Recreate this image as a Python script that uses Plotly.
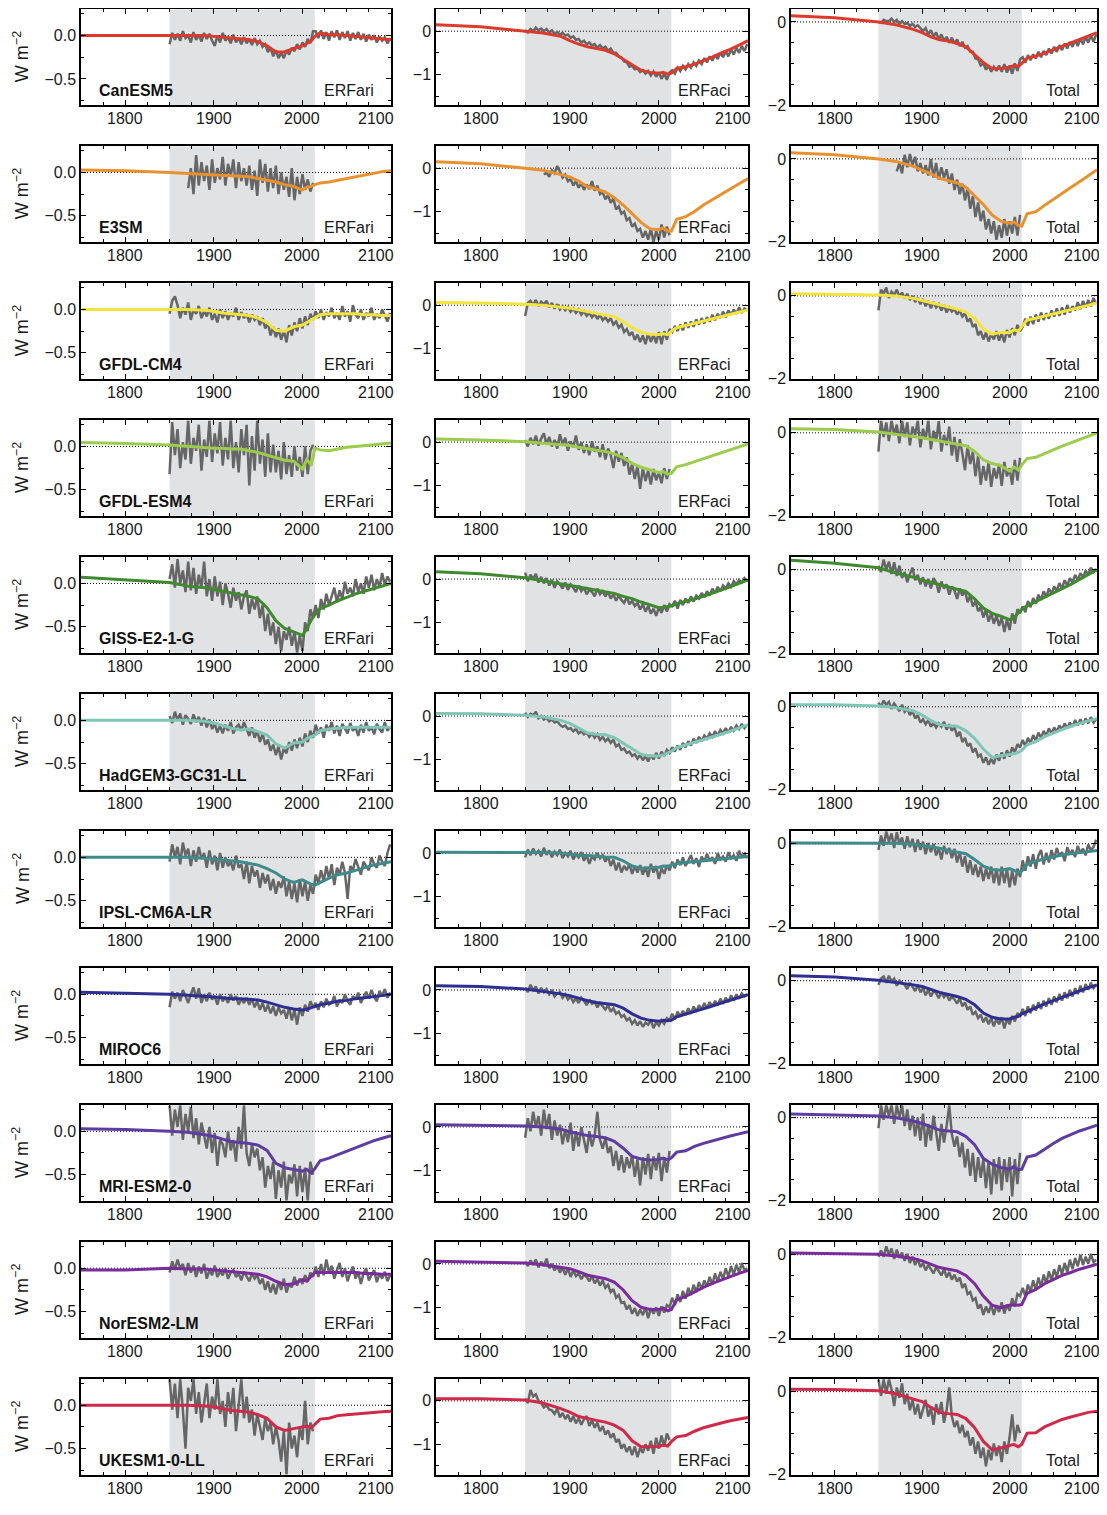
import plotly.graph_objects as go

# ---------------- years ----------------
YEARS_EMU = [1750, 1800, 1850, 1870, 1890, 1900, 1910, 1920, 1930, 1940, 1950, 1960, 1970, 1980,
             1990, 2000, 2005, 2010, 2014, 2020, 2030, 2040, 2050, 2060, 2070, 2080, 2090, 2100]
YEARS_HIST = list(range(1850, 2013, 3))   # 55 values
YEARS_FUT = list(range(2015, 2100, 3))    # 29 values

MODEL_NAMES = ["CanESM5", "E3SM", "GFDL-CM4", "GFDL-ESM4", "GISS-E2-1-G", "HadGEM3-GC31-LL",
               "IPSL-CM6A-LR", "MIROC6", "MRI-ESM2-0", "NorESM2-LM", "UKESM1-0-LL"]
MODEL_COLORS = ["#dc3b2c", "#e8912e", "#f2e43c", "#9bcc4c", "#3f8a2f", "#80c6b6",
                "#3f8b8c", "#2f2f92", "#5d3da1", "#7b2c9c", "#cf2a49"]
COLUMN_LABELS = ["ERFari", "ERFaci", "Total"]
Y_RANGES = [(-0.8, 0.3), (-1.7, 0.5), (-2.0, 0.3)]
X_TICK_LABELS = ["1800", "1900", "2000", "2100"]
X_TICK_VALUES = [1800, 1900, 2000, 2100]

# ---------------- CanESM5 ----------------
canesm5_ari_emu = [0.0, 0.0, 0.0, 0.0, 0.0, -0.01, -0.02, -0.03, -0.04, -0.05, -0.07, -0.12, -0.19, -0.19,
                   -0.15, -0.12, -0.09, -0.06, -0.01, 0.03, 0.01, 0.01, 0.0, -0.01, -0.02, -0.03, -0.04, -0.05]
canesm5_ari_hist = [-0.10, 0.03, -0.05, 0.02, -0.06, 0.05, -0.03, 0.00, -0.08, 0.04,
                    -0.05, 0.01, -0.07, 0.03, -0.04, 0.02, -0.06, -0.12, 0.00, -0.08,
                    0.03, -0.06, -0.02, -0.09, 0.01, -0.08, -0.03, -0.10, -0.02, -0.09,
                    -0.04, -0.11, -0.03, -0.10, -0.06, -0.13, -0.10, -0.19, -0.14, -0.24,
                    -0.17, -0.26, -0.20, -0.26, -0.17, -0.22, -0.14, -0.18, -0.10, -0.16,
                    -0.08, -0.13, -0.04, -0.09, 0.05]
canesm5_ari_fut = [0.05, -0.03, 0.06, -0.04, 0.04, -0.06, 0.05, -0.02, 0.06, -0.05,
                   0.04, -0.03, 0.05, -0.06, 0.03, -0.04, 0.04, -0.05, 0.02, -0.07,
                   0.01, -0.05, 0.00, -0.08, -0.01, -0.06, -0.02, -0.09, -0.03]
canesm5_aci_emu = [0.15, 0.10, 0.0, -0.04, -0.12, -0.22, -0.30, -0.36, -0.40, -0.44, -0.52, -0.65, -0.78, -0.90,
                   -0.95, -0.97, -0.95, -0.99, -0.97, -0.86, -0.82, -0.76, -0.68, -0.60, -0.50, -0.42, -0.32, -0.22]
canesm5_aci_hist = [0.02, -0.03, 0.05, 0.00, 0.08, 0.02, 0.06, 0.00, 0.05, -0.03,
                    0.02, -0.06, -0.02, -0.08, -0.04, -0.10, -0.08, -0.15, -0.12, -0.20,
                    -0.18, -0.26, -0.22, -0.30, -0.26, -0.33, -0.30, -0.38, -0.32, -0.40,
                    -0.36, -0.45, -0.40, -0.50, -0.50, -0.58, -0.60, -0.70, -0.72, -0.82,
                    -0.80, -0.88, -0.86, -0.94, -0.90, -0.98, -0.92, -1.02, -0.93, -1.05,
                    -0.95, -1.10, -0.98, -1.12, -0.95]
canesm5_aci_fut = [-0.90, -0.98, -0.84, -0.92, -0.80, -0.88, -0.76, -0.84, -0.72, -0.80,
                   -0.68, -0.76, -0.62, -0.72, -0.58, -0.68, -0.55, -0.64, -0.50, -0.60,
                   -0.46, -0.58, -0.42, -0.54, -0.38, -0.50, -0.34, -0.46, -0.30]
canesm5_tot_emu = [0.15, 0.10, 0.0, -0.07, -0.18, -0.26, -0.36, -0.43, -0.46, -0.52, -0.60, -0.78, -0.98, -1.13,
                   -1.12, -1.09, -1.05, -1.07, -1.00, -0.87, -0.82, -0.75, -0.67, -0.58, -0.50, -0.42, -0.34, -0.26]
canesm5_tot_hist = [0.00, -0.02, 0.05, 0.02, 0.02, 0.08, 0.00, 0.05, -0.05, 0.02,
                    -0.05, -0.02, -0.10, -0.05, -0.12, -0.08, -0.15, -0.22, -0.15, -0.30,
                    -0.20, -0.35, -0.25, -0.42, -0.30, -0.45, -0.36, -0.50, -0.38, -0.52,
                    -0.42, -0.58, -0.48, -0.62, -0.58, -0.72, -0.72, -0.88, -0.90, -1.05,
                    -1.00, -1.15, -1.06, -1.20, -1.08, -1.18, -1.05, -1.20, -1.02, -1.22,
                    -1.05, -1.25, -1.00, -1.18, -0.90]
canesm5_tot_fut = [-0.85, -0.98, -0.80, -0.92, -0.78, -0.88, -0.72, -0.85, -0.70, -0.80,
                   -0.64, -0.76, -0.60, -0.72, -0.56, -0.68, -0.52, -0.64, -0.48, -0.60,
                   -0.44, -0.58, -0.40, -0.54, -0.36, -0.50, -0.32, -0.48, -0.30]

# ---------------- E3SM ----------------
e3sm_ari_emu = [0.03, 0.02, 0.0, -0.01, -0.02, -0.03, -0.03, -0.04, -0.04, -0.05, -0.07, -0.09, -0.11, -0.14,
                -0.16, -0.20, -0.17, -0.16, -0.14, -0.12, -0.11, -0.09, -0.07, -0.05, -0.03, -0.01, 0.01, 0.02]
e3sm_ari_hist = [None, None, None, None, None, None, None,
                 -0.18, 0.05, -0.25, 0.20, -0.15, 0.12, -0.10, 0.08, -0.20, 0.15,
                 -0.12, 0.05, -0.08, 0.18, -0.15, 0.10, -0.05, 0.15, -0.18, 0.12,
                 -0.10, 0.05, -0.15, 0.08, -0.20, 0.02, -0.27, 0.15, -0.12, 0.10,
                 -0.22, 0.05, -0.18, 0.08, -0.25, 0.00, -0.20, -0.05, -0.28, 0.05,
                 -0.32, -0.05, -0.25, -0.02, -0.20, -0.08, -0.22, -0.12]
e3sm_aci_emu = [0.15, 0.10, 0.0, -0.05, -0.15, -0.20, -0.30, -0.43, -0.48, -0.55, -0.68, -0.85, -1.05, -1.25,
                -1.40, -1.42, -1.38, -1.45, -1.45, -1.18, -1.12, -1.00, -0.85, -0.72, -0.60, -0.48, -0.36, -0.24]
e3sm_aci_hist = [None, None, None, None, None, None, None,
                 -0.15, -0.10, -0.20, -0.05, -0.12, 0.05, -0.08, -0.22, -0.15, -0.30,
                 -0.25, -0.40, -0.30, -0.45, -0.35, -0.50, -0.38, -0.48, -0.30, -0.52,
                 -0.40, -0.60, -0.55, -0.72, -0.62, -0.80, -0.70, -0.95, -0.88, -1.05,
                 -1.00, -1.20, -1.15, -1.35, -1.28, -1.45, -1.40, -1.60, -1.45, -1.65,
                 -1.40, -1.70, -1.45, -1.65, -1.30, -1.60, -1.35, -1.55]
e3sm_tot_emu = [0.15, 0.10, 0.0, -0.06, -0.18, -0.27, -0.36, -0.47, -0.52, -0.58, -0.68, -0.90, -1.10, -1.35,
                -1.50, -1.55, -1.52, -1.60, -1.62, -1.32, -1.27, -1.12, -0.97, -0.83, -0.69, -0.55, -0.40, -0.26]
e3sm_tot_hist = [None, None, None, None, None, None, None,
                 -0.30, -0.10, -0.35, 0.10, -0.20, 0.12, -0.15, 0.05, -0.30, -0.10,
                 -0.35, -0.15, -0.40, 0.00, -0.45, -0.10, -0.50, -0.20, -0.45, -0.25,
                 -0.60, -0.35, -0.75, -0.50, -0.85, -0.60, -1.00, -0.70, -1.20, -0.90,
                 -1.40, -1.05, -1.50, -1.25, -1.70, -1.45, -1.80, -1.50, -1.95, -1.60,
                 -1.90, -1.45, -1.85, -1.50, -1.80, -1.40, -1.85, -1.35]

# ---------------- GFDL-CM4 ----------------
gfdlcm4_ari_emu = [0.0, 0.0, 0.0, 0.0, -0.01, -0.02, -0.04, -0.05, -0.06, -0.07, -0.10, -0.15, -0.24, -0.25,
                   -0.20, -0.18, -0.15, -0.12, -0.10, -0.06, -0.05, -0.05, -0.05, -0.05, -0.06, -0.06, -0.07, -0.07]
gfdlcm4_ari_hist = [-0.05, 0.10, 0.15, 0.05, -0.10, 0.02, -0.06, 0.08, -0.12, 0.00,
                    -0.05, 0.04, -0.10, -0.02, -0.08, 0.02, -0.12, -0.05, -0.15, 0.00,
                    -0.10, -0.02, -0.12, -0.04, -0.08, 0.02, -0.12, -0.03, -0.10, -0.05,
                    -0.15, -0.06, -0.12, -0.08, -0.18, -0.10, -0.22, -0.15, -0.30, -0.20,
                    -0.32, -0.22, -0.35, -0.24, -0.38, -0.18, -0.30, -0.15, -0.25, -0.10,
                    -0.22, -0.08, -0.18, -0.05, -0.12]
gfdlcm4_ari_fut = [-0.02, -0.10, 0.00, -0.12, -0.03, -0.08, 0.02, -0.10, -0.04, -0.12,
                   0.04, -0.08, -0.02, -0.14, 0.05, -0.06, -0.10, 0.00, -0.12, -0.04,
                   -0.08, 0.02, -0.12, -0.05, -0.10, 0.00, -0.08, -0.14, -0.04]
gfdlcm4_aci_emu = [0.06, 0.05, 0.02, 0.0, -0.05, -0.07, -0.11, -0.15, -0.19, -0.23, -0.27, -0.38, -0.52, -0.63,
                   -0.67, -0.68, -0.66, -0.68, -0.60, -0.52, -0.47, -0.42, -0.37, -0.32, -0.27, -0.22, -0.16, -0.11]
gfdlcm4_aci_hist = [-0.25, 0.05, 0.10, 0.00, 0.12, -0.02, 0.08, 0.02, 0.10, -0.05,
                    0.05, -0.08, 0.02, -0.10, -0.03, -0.12, -0.05, -0.15, -0.08, -0.18,
                    -0.10, -0.22, -0.14, -0.25, -0.18, -0.28, -0.20, -0.32, -0.22, -0.35,
                    -0.28, -0.38, -0.30, -0.45, -0.38, -0.52, -0.45, -0.62, -0.55, -0.70,
                    -0.62, -0.80, -0.68, -0.85, -0.70, -0.90, -0.65, -0.85, -0.68, -0.88,
                    -0.62, -0.90, -0.60, -0.80, -0.55]
gfdlcm4_aci_fut = [-0.62, -0.48, -0.60, -0.45, -0.58, -0.40, -0.52, -0.38, -0.50, -0.33,
                   -0.45, -0.30, -0.42, -0.28, -0.38, -0.22, -0.35, -0.20, -0.30, -0.15,
                   -0.28, -0.12, -0.22, -0.10, -0.20, -0.05, -0.18, -0.08, -0.12]
gfdlcm4_tot_emu = [0.05, 0.04, 0.02, 0.0, -0.06, -0.11, -0.16, -0.21, -0.27, -0.32, -0.39, -0.55, -0.80, -0.92,
                   -0.88, -0.89, -0.82, -0.85, -0.74, -0.58, -0.54, -0.49, -0.44, -0.39, -0.34, -0.29, -0.23, -0.17]
gfdlcm4_tot_hist = [-0.35, 0.15, 0.05, 0.20, -0.05, 0.10, 0.02, 0.15, -0.02, 0.08,
                    -0.05, 0.05, -0.10, 0.00, -0.15, -0.05, -0.20, -0.08, -0.25, -0.12,
                    -0.30, -0.15, -0.28, -0.20, -0.35, -0.22, -0.40, -0.28, -0.38, -0.32,
                    -0.45, -0.35, -0.50, -0.42, -0.62, -0.55, -0.75, -0.68, -0.95, -0.85,
                    -1.05, -0.88, -1.10, -0.92, -1.05, -0.85, -1.08, -0.90, -1.12, -0.82,
                    -1.00, -0.78, -0.95, -0.70, -0.85]
gfdlcm4_tot_fut = [-0.75, -0.55, -0.72, -0.50, -0.68, -0.45, -0.62, -0.40, -0.58, -0.42,
                   -0.55, -0.35, -0.50, -0.30, -0.48, -0.28, -0.45, -0.22, -0.40, -0.25,
                   -0.35, -0.15, -0.32, -0.12, -0.28, -0.10, -0.25, -0.05, -0.20]

# ---------------- GFDL-ESM4 ----------------
gfdlesm4_ari_emu = [0.045, 0.035, 0.015, 0.0, -0.01, -0.02, -0.02, -0.03, -0.03, -0.05, -0.07, -0.10, -0.13, -0.16,
                    -0.17, -0.26, -0.15, -0.22, -0.02, -0.04, -0.05, -0.03, -0.01, 0.0, 0.01, 0.02, 0.03, 0.04]
gfdlesm4_ari_hist = [-0.32, 0.28, -0.10, 0.20, -0.25, 0.05, -0.15, 0.30, -0.20, 0.10,
                     -0.05, 0.25, -0.28, 0.08, -0.12, 0.30, -0.18, 0.15, -0.08, 0.28,
                     -0.22, 0.10, -0.15, 0.30, -0.25, 0.05, -0.30, 0.20, -0.10, 0.25,
                     -0.45, 0.12, -0.28, 0.30, -0.20, 0.08, -0.35, 0.15, -0.30, 0.02,
                     -0.30, -0.05, -0.38, 0.05, -0.32, -0.10, -0.35, 0.00, -0.28, -0.12,
                     -0.35, 0.00, -0.32, -0.05, 0.02]
gfdlesm4_aci_emu = [0.07, 0.05, 0.01, -0.02, -0.06, -0.08, -0.12, -0.16, -0.19, -0.22, -0.27, -0.36, -0.49, -0.58,
                    -0.64, -0.70, -0.68, -0.74, -0.72, -0.57, -0.52, -0.45, -0.38, -0.31, -0.24, -0.17, -0.10, -0.04]
gfdlesm4_aci_hist = [0.05, -0.10, 0.10, -0.05, 0.15, -0.08, 0.08, 0.20, -0.05, 0.12,
                     -0.10, 0.05, -0.15, 0.18, -0.05, 0.10, -0.20, 0.02, -0.12, 0.15,
                     -0.18, 0.00, -0.25, -0.05, -0.30, 0.02, -0.22, -0.10, -0.35, -0.05,
                     -0.40, -0.15, -0.30, -0.60, -0.20, -0.45, -0.25, -0.55, -0.35, -0.75,
                     -0.50, -0.85, -0.55, -1.08, -0.60, -0.90, -0.65, -0.98, -0.62, -0.88,
                     -0.70, -0.95, -0.60, -0.85, -0.62]
gfdlesm4_tot_emu = [0.10, 0.08, 0.02, -0.03, -0.08, -0.12, -0.16, -0.20, -0.24, -0.27, -0.31, -0.45, -0.65, -0.74,
                    -0.79, -0.92, -0.82, -0.90, -0.77, -0.62, -0.59, -0.50, -0.40, -0.32, -0.24, -0.16, -0.08, 0.0]
gfdlesm4_tot_hist = [-0.45, 0.30, -0.10, 0.25, -0.20, 0.30, -0.05, 0.20, -0.25, 0.30,
                     -0.10, 0.25, -0.30, 0.15, -0.05, 0.30, -0.35, 0.10, -0.15, 0.30,
                     -0.40, 0.05, -0.20, 0.28, -0.45, -0.05, -0.30, 0.15, -0.55, -0.10,
                     -0.70, -0.15, -0.50, -0.90, -0.30, -0.75, -0.45, -1.05, -0.55, -1.25,
                     -0.80, -1.15, -0.70, -1.30, -0.85, -1.10, -0.75, -1.28, -0.70, -1.05,
                     -0.85, -1.25, -0.65, -1.15, -0.60]

# ---------------- GISS-E2-1-G ----------------
giss_ari_emu = [0.07, 0.04, 0.01, -0.03, -0.05, -0.07, -0.09, -0.11, -0.13, -0.15, -0.18, -0.28, -0.43, -0.52,
                -0.56, -0.60, -0.52, -0.42, -0.36, -0.29, -0.25, -0.20, -0.16, -0.12, -0.09, -0.06, -0.03, 0.0]
giss_ari_hist = [0.05, 0.22, -0.05, 0.28, 0.00, 0.15, -0.10, 0.25, -0.08, 0.18,
                 -0.12, 0.10, -0.05, 0.25, -0.15, 0.05, -0.20, 0.08, -0.15, 0.02,
                 -0.25, 0.00, -0.12, -0.28, -0.05, -0.20, -0.10, -0.30, -0.15, -0.08,
                 -0.35, -0.18, -0.30, -0.15, -0.40, -0.25, -0.55, -0.35, -0.60, -0.45,
                 -0.70, -0.50, -0.78, -0.55, -0.65, -0.50, -0.72, -0.55, -0.80, -0.60,
                 -0.78, -0.45, -0.55, -0.30, -0.40]
giss_ari_fut = [-0.25, -0.40, -0.18, -0.30, -0.12, -0.25, -0.15, -0.05, -0.22, -0.08,
                -0.18, 0.02, -0.12, -0.05, -0.15, 0.05, -0.10, 0.00, -0.12, 0.08,
                -0.05, 0.10, -0.08, 0.05, -0.04, 0.12, -0.02, 0.08, 0.02]
giss_aci_emu = [0.17, 0.12, 0.03, -0.04, -0.10, -0.14, -0.18, -0.22, -0.26, -0.29, -0.33, -0.40, -0.45, -0.53,
                -0.60, -0.66, -0.65, -0.63, -0.62, -0.57, -0.52, -0.46, -0.40, -0.33, -0.26, -0.18, -0.10, -0.02]
giss_aci_hist = [0.15, -0.05, 0.10, 0.00, 0.12, -0.08, 0.05, -0.10, 0.02, -0.15,
                 -0.02, -0.20, -0.05, -0.12, -0.22, -0.08, -0.25, -0.12, -0.20, -0.30,
                 -0.15, -0.28, -0.20, -0.35, -0.25, -0.30, -0.40, -0.22, -0.35, -0.28,
                 -0.40, -0.30, -0.45, -0.35, -0.50, -0.38, -0.48, -0.55, -0.42, -0.58,
                 -0.50, -0.62, -0.55, -0.70, -0.58, -0.75, -0.62, -0.80, -0.68, -0.85,
                 -0.65, -0.78, -0.60, -0.75, -0.58]
giss_aci_fut = [-0.62, -0.50, -0.68, -0.48, -0.60, -0.45, -0.55, -0.40, -0.52, -0.38,
                -0.45, -0.32, -0.42, -0.28, -0.38, -0.22, -0.32, -0.18, -0.28, -0.15,
                -0.22, -0.10, -0.18, -0.05, -0.12, -0.02, -0.08, 0.02, -0.05]
giss_tot_emu = [0.23, 0.16, 0.05, -0.08, -0.18, -0.25, -0.30, -0.36, -0.42, -0.47, -0.52, -0.70, -0.92, -1.05,
                -1.12, -1.20, -1.15, -1.05, -0.95, -0.87, -0.77, -0.66, -0.56, -0.45, -0.35, -0.23, -0.12, 0.0]
giss_tot_hist = [0.10, -0.05, 0.25, 0.00, 0.20, -0.10, 0.18, -0.15, 0.10, -0.20,
                 -0.05, -0.30, -0.10, 0.05, -0.25, -0.12, -0.35, -0.18, -0.40, -0.22,
                 -0.45, -0.20, -0.30, -0.55, -0.28, -0.45, -0.35, -0.60, -0.40, -0.50,
                 -0.70, -0.45, -0.62, -0.50, -0.78, -0.62, -0.88, -0.75, -1.00, -0.90,
                 -1.15, -0.95, -1.25, -1.05, -1.30, -1.10, -1.35, -1.15, -1.50, -1.20,
                 -1.45, -1.05, -1.30, -0.95, -1.05]
giss_tot_fut = [-0.88, -1.02, -0.75, -0.90, -0.68, -0.82, -0.60, -0.72, -0.52, -0.65,
                -0.45, -0.58, -0.40, -0.50, -0.32, -0.45, -0.25, -0.38, -0.20, -0.30,
                -0.12, -0.25, -0.08, -0.18, -0.02, -0.12, 0.05, -0.05, 0.02]

# ---------------- HadGEM3-GC31-LL ----------------
hadgem3_ari_emu = [0.0, 0.0, 0.0, 0.0, -0.01, -0.03, -0.06, -0.09, -0.11, -0.10, -0.13, -0.17, -0.27, -0.32,
                   -0.26, -0.25, -0.21, -0.19, -0.17, -0.12, -0.10, -0.09, -0.08, -0.08, -0.08, -0.08, -0.08, -0.08]
hadgem3_ari_hist = [0.05, -0.03, 0.10, 0.00, 0.08, -0.05, 0.06, 0.02, -0.04, 0.07,
                    -0.02, 0.04, -0.06, 0.03, -0.08, 0.01, -0.10, -0.04, -0.14, -0.06,
                    -0.15, -0.05, -0.12, -0.02, -0.15, -0.08, -0.05, -0.12, -0.02, -0.10,
                    -0.18, -0.08, -0.20, -0.12, -0.25, -0.15, -0.28, -0.22, -0.35, -0.28,
                    -0.40, -0.30, -0.45, -0.32, -0.38, -0.25, -0.35, -0.22, -0.32, -0.20,
                    -0.30, -0.15, -0.25, -0.12, -0.20]
hadgem3_ari_fut = [-0.05, -0.15, -0.08, -0.20, -0.05, -0.12, -0.02, -0.15, -0.06, -0.18,
                   -0.04, -0.10, -0.15, -0.03, -0.12, -0.08, -0.18, -0.05, -0.14, -0.02,
                   -0.12, -0.08, -0.16, -0.04, -0.10, -0.14, -0.02, -0.12, -0.08]
hadgem3_aci_emu = [0.06, 0.05, 0.02, -0.02, -0.10, -0.17, -0.28, -0.39, -0.42, -0.43, -0.50, -0.62, -0.76, -0.88,
                   -0.92, -0.92, -0.90, -0.86, -0.81, -0.73, -0.67, -0.60, -0.55, -0.48, -0.42, -0.35, -0.28, -0.20]
hadgem3_aci_hist = [0.08, -0.02, 0.05, 0.02, 0.10, -0.05, 0.00, -0.08, -0.04, -0.12,
                    -0.08, -0.15, -0.12, -0.20, -0.25, -0.22, -0.30, -0.28, -0.35, -0.30,
                    -0.40, -0.35, -0.42, -0.38, -0.48, -0.40, -0.50, -0.42, -0.55, -0.48,
                    -0.58, -0.52, -0.62, -0.55, -0.70, -0.65, -0.78, -0.75, -0.85, -0.82,
                    -0.92, -0.88, -0.98, -0.90, -1.02, -0.92, -1.05, -0.90, -1.00, -0.85,
                    -0.98, -0.82, -0.92, -0.78, -0.85]
hadgem3_aci_fut = [-0.72, -0.82, -0.68, -0.78, -0.62, -0.72, -0.58, -0.68, -0.52, -0.62,
                   -0.48, -0.58, -0.45, -0.52, -0.40, -0.48, -0.35, -0.45, -0.32, -0.40,
                   -0.28, -0.38, -0.25, -0.34, -0.22, -0.30, -0.18, -0.28, -0.20]
hadgem3_tot_emu = [0.05, 0.05, 0.02, -0.02, -0.10, -0.20, -0.33, -0.43, -0.46, -0.47, -0.58, -0.76, -1.02, -1.22,
                   -1.18, -1.15, -1.13, -1.10, -1.05, -0.92, -0.84, -0.72, -0.63, -0.55, -0.47, -0.40, -0.34, -0.29]
hadgem3_tot_hist = [0.10, 0.00, 0.15, 0.05, 0.12, -0.05, 0.08, -0.02, -0.10, 0.05,
                    -0.12, -0.05, -0.20, -0.10, -0.28, -0.20, -0.38, -0.30, -0.42, -0.32,
                    -0.48, -0.38, -0.50, -0.40, -0.48, -0.36, -0.55, -0.42, -0.58, -0.48,
                    -0.72, -0.60, -0.85, -0.75, -0.95, -0.88, -1.10, -1.00, -1.20, -1.15,
                    -1.35, -1.22, -1.40, -1.25, -1.38, -1.15, -1.30, -1.10, -1.25, -1.05,
                    -1.20, -0.98, -1.10, -0.90, -0.98]
hadgem3_tot_fut = [-0.80, -0.95, -0.75, -0.88, -0.68, -0.82, -0.62, -0.75, -0.58, -0.70,
                   -0.52, -0.65, -0.50, -0.60, -0.45, -0.55, -0.40, -0.52, -0.38, -0.48,
                   -0.32, -0.45, -0.30, -0.42, -0.28, -0.40, -0.25, -0.38, -0.30]

# ---------------- IPSL-CM6A-LR ----------------
ipsl_ari_emu = [0.0, 0.0, 0.0, 0.0, -0.01, -0.02, -0.03, -0.04, -0.05, -0.07, -0.09, -0.13, -0.18, -0.25,
                -0.29, -0.26, -0.29, -0.31, -0.32, -0.29, -0.24, -0.20, -0.18, -0.15, -0.12, -0.09, -0.07, -0.05]
ipsl_ari_hist = [-0.05, 0.15, 0.00, 0.12, -0.08, 0.17, 0.02, 0.10, -0.10, 0.08,
                 -0.05, 0.12, -0.02, 0.05, -0.12, 0.08, -0.08, 0.02, -0.15, 0.05,
                 -0.12, 0.00, -0.10, -0.05, -0.15, 0.02, -0.12, -0.08, -0.25, -0.05,
                 -0.30, -0.10, -0.22, -0.15, -0.35, -0.18, -0.30, -0.20, -0.38, -0.25,
                 -0.42, -0.28, -0.35, -0.22, -0.45, -0.28, -0.48, -0.30, -0.52, -0.25,
                 -0.45, -0.28, -0.50, -0.32, -0.42]
ipsl_ari_fut = [-0.20, -0.30, -0.15, -0.28, -0.10, -0.25, -0.08, -0.32, -0.12, -0.20,
                -0.05, -0.18, -0.48, -0.10, -0.15, -0.02, -0.12, -0.20, -0.05, -0.10,
                -0.15, 0.00, -0.08, -0.12, 0.02, -0.05, -0.10, 0.05, 0.15]
ipsl_aci_emu = [0.02, 0.02, 0.02, 0.01, 0.0, -0.03, -0.05, -0.06, -0.08, -0.09, -0.10, -0.18, -0.30, -0.35,
                -0.34, -0.33, -0.30, -0.31, -0.28, -0.25, -0.22, -0.20, -0.18, -0.16, -0.14, -0.12, -0.10, -0.08]
ipsl_aci_hist = [-0.10, 0.08, -0.05, 0.10, -0.02, 0.05, -0.08, 0.12, -0.04, 0.06,
                 -0.10, 0.03, -0.05, 0.08, -0.12, 0.00, -0.08, 0.05, -0.15, -0.02,
                 -0.10, 0.02, -0.18, -0.05, -0.25, -0.08, -0.15, 0.00, -0.12, -0.05,
                 -0.20, -0.08, -0.30, -0.15, -0.40, -0.22, -0.45, -0.30, -0.40, -0.25,
                 -0.48, -0.30, -0.45, -0.28, -0.50, -0.32, -0.55, -0.25, -0.45, -0.30,
                 -0.60, -0.35, -0.48, -0.28, -0.40]
ipsl_aci_fut = [-0.20, -0.35, -0.15, -0.28, -0.10, -0.30, -0.18, -0.05, -0.25, -0.12,
                -0.32, -0.08, -0.20, -0.02, -0.18, -0.10, -0.25, 0.00, -0.15, -0.08,
                -0.20, 0.02, -0.12, -0.05, -0.18, 0.05, -0.10, -0.02, -0.12]
ipsl_tot_emu = [0.02, 0.02, 0.02, 0.01, -0.01, -0.04, -0.08, -0.11, -0.16, -0.20, -0.24, -0.38, -0.54, -0.62,
                -0.64, -0.60, -0.64, -0.70, -0.66, -0.50, -0.42, -0.36, -0.31, -0.27, -0.24, -0.21, -0.18, -0.16]
ipsl_tot_hist = [-0.15, 0.20, -0.05, 0.30, 0.05, 0.25, -0.10, 0.28, 0.00, 0.15,
                 -0.12, 0.18, -0.08, 0.12, -0.20, 0.10, -0.15, 0.05, -0.25, 0.02,
                 -0.20, 0.00, -0.28, -0.10, -0.38, -0.05, -0.25, -0.10, -0.35, -0.12,
                 -0.45, -0.20, -0.55, -0.30, -0.70, -0.40, -0.75, -0.50, -0.80, -0.55,
                 -0.90, -0.60, -0.85, -0.55, -0.95, -0.60, -1.00, -0.55, -0.95, -0.60,
                 -1.05, -0.65, -1.00, -0.60, -0.80]
ipsl_tot_fut = [-0.40, -0.65, -0.30, -0.55, -0.25, -0.60, -0.28, -0.15, -0.50, -0.22,
                -0.45, -0.15, -0.38, -0.10, -0.30, -0.20, -0.42, -0.08, -0.25, -0.15,
                -0.32, -0.05, -0.22, -0.12, -0.28, -0.02, -0.15, -0.08, 0.10]

# ---------------- MIROC6 ----------------
miroc6_ari_emu = [0.025, 0.015, 0.0, -0.01, -0.02, -0.03, -0.04, -0.05, -0.05, -0.06, -0.065, -0.09, -0.12, -0.15,
                  -0.17, -0.18, -0.17, -0.15, -0.14, -0.12, -0.10, -0.08, -0.07, -0.05, -0.04, -0.03, -0.015, 0.0]
miroc6_ari_hist = [-0.15, 0.03, -0.05, 0.02, -0.08, 0.05, -0.02, -0.10, 0.00, 0.08,
                   -0.05, 0.07, -0.10, 0.00, -0.08, 0.02, -0.06, -0.02, -0.12, 0.00,
                   -0.08, -0.03, -0.10, 0.00, -0.07, -0.02, -0.12, -0.05, -0.10, -0.04,
                   -0.12, -0.05, -0.15, -0.08, -0.18, -0.10, -0.20, -0.12, -0.22, -0.14,
                   -0.25, -0.15, -0.22, -0.18, -0.28, -0.15, -0.30, -0.18, -0.35, -0.15,
                   -0.25, -0.12, -0.20, -0.08, -0.15]
miroc6_ari_fut = [-0.10, -0.18, -0.08, -0.15, -0.05, -0.12, -0.10, -0.02, -0.14, -0.06,
                  -0.10, 0.00, -0.08, -0.12, -0.02, -0.06, 0.02, -0.10, -0.04, 0.03,
                  -0.05, 0.05, -0.03, -0.08, 0.04, -0.02, 0.06, -0.04, 0.02]
miroc6_aci_emu = [0.10, 0.08, 0.02, -0.03, -0.09, -0.13, -0.19, -0.25, -0.29, -0.31, -0.34, -0.42, -0.55, -0.65,
                  -0.70, -0.72, -0.70, -0.71, -0.70, -0.62, -0.56, -0.49, -0.43, -0.37, -0.30, -0.24, -0.17, -0.11]
miroc6_aci_hist = [0.05, -0.05, 0.12, 0.00, 0.08, -0.08, 0.05, -0.05, 0.02, -0.10,
                   -0.02, -0.15, -0.08, -0.05, -0.18, -0.10, -0.22, -0.15, -0.28, -0.20,
                   -0.30, -0.18, -0.25, -0.35, -0.22, -0.32, -0.28, -0.40, -0.30, -0.38,
                   -0.45, -0.35, -0.50, -0.42, -0.55, -0.50, -0.62, -0.58, -0.70, -0.65,
                   -0.78, -0.70, -0.82, -0.72, -0.85, -0.75, -0.80, -0.70, -0.88, -0.75,
                   -0.82, -0.70, -0.78, -0.65, -0.70]
miroc6_aci_fut = [-0.55, -0.68, -0.50, -0.62, -0.48, -0.58, -0.42, -0.55, -0.38, -0.50,
                  -0.35, -0.45, -0.30, -0.42, -0.28, -0.38, -0.25, -0.35, -0.20, -0.32,
                  -0.18, -0.28, -0.12, -0.25, -0.10, -0.20, -0.08, -0.15, -0.10]
miroc6_tot_emu = [0.12, 0.09, 0.01, -0.04, -0.10, -0.14, -0.21, -0.28, -0.33, -0.38, -0.45, -0.58, -0.78, -0.88,
                  -0.92, -0.92, -0.88, -0.86, -0.80, -0.74, -0.66, -0.56, -0.48, -0.40, -0.32, -0.25, -0.17, -0.10]
miroc6_tot_hist = [-0.10, 0.05, 0.10, -0.05, 0.12, -0.02, 0.05, -0.12, 0.00, -0.05,
                   -0.10, -0.20, -0.05, -0.15, -0.25, -0.10, -0.28, -0.18, -0.35, -0.22,
                   -0.38, -0.25, -0.30, -0.42, -0.28, -0.40, -0.32, -0.48, -0.38, -0.45,
                   -0.55, -0.42, -0.62, -0.52, -0.70, -0.62, -0.82, -0.75, -0.90, -0.82,
                   -1.00, -0.88, -1.05, -0.90, -1.10, -0.92, -1.05, -0.88, -1.15, -0.92,
                   -1.05, -0.85, -0.98, -0.78, -0.85]
miroc6_tot_fut = [-0.68, -0.85, -0.62, -0.78, -0.58, -0.72, -0.52, -0.68, -0.48, -0.62,
                  -0.42, -0.58, -0.38, -0.52, -0.32, -0.48, -0.28, -0.42, -0.22, -0.38,
                  -0.18, -0.32, -0.12, -0.28, -0.08, -0.22, -0.05, -0.18, -0.10]

# ---------------- MRI-ESM2-0 ----------------
mri_ari_emu = [0.03, 0.02, 0.0, -0.01, -0.04, -0.06, -0.09, -0.12, -0.13, -0.14, -0.16, -0.22, -0.37, -0.42,
               -0.44, -0.46, -0.44, -0.48, -0.43, -0.34, -0.31, -0.27, -0.23, -0.19, -0.15, -0.11, -0.08, -0.05]
mri_ari_hist = [0.30, -0.05, 0.25, 0.05, 0.30, -0.10, 0.20, 0.00, 0.28, -0.08,
                0.15, -0.15, 0.10, -0.05, -0.20, 0.05, -0.25, -0.02, -0.40, -0.10,
                -0.15, -0.30, 0.00, -0.22, -0.10, -0.35, 0.05, -0.20, 0.30, -0.25,
                -0.40, -0.15, -0.30, -0.20, -0.45, -0.30, -0.65, -0.40, -0.55, -0.35,
                -0.78, -0.45, -0.65, -0.35, -0.80, -0.50, -0.60, -0.38, -0.75, -0.40,
                -0.70, -0.42, -0.80, -0.35, -0.50]
mri_aci_emu = [0.05, 0.04, 0.02, 0.0, -0.05, -0.11, -0.16, -0.20, -0.22, -0.25, -0.33, -0.49, -0.68, -0.74,
               -0.76, -0.75, -0.72, -0.76, -0.71, -0.58, -0.55, -0.45, -0.38, -0.32, -0.26, -0.21, -0.16, -0.11]
mri_aci_hist = [-0.25, 0.20, -0.10, 0.35, 0.00, 0.25, -0.20, 0.40, -0.05, 0.30,
                -0.30, 0.15, -0.20, 0.05, -0.40, -0.05, -0.35, 0.10, -0.55, -0.10,
                -0.45, 0.00, -0.30, -0.60, -0.10, -0.45, -0.20, 0.35, -0.30, -0.50,
                -0.25, -0.60, -0.45, -0.90, -0.55, -1.00, -0.65, -1.05, -0.70, -0.95,
                -0.65, -1.15, -0.75, -1.35, -0.70, -1.10, -0.62, -1.20, -0.68, -1.00,
                -0.60, -1.25, -0.70, -1.05, -0.55]
mri_tot_emu = [0.09, 0.07, 0.04, 0.0, -0.08, -0.14, -0.22, -0.30, -0.32, -0.34, -0.45, -0.65, -0.98, -1.12,
               -1.20, -1.24, -1.18, -1.26, -1.24, -0.95, -0.90, -0.75, -0.62, -0.50, -0.41, -0.32, -0.25, -0.18]
mri_tot_hist = [-0.25, 0.30, -0.05, 0.30, 0.05, 0.30, -0.15, 0.30, 0.00, 0.30,
                -0.20, 0.20, -0.30, 0.05, -0.45, 0.00, -0.55, 0.10, -0.70, -0.15,
                -0.55, 0.05, -0.35, -0.80, -0.15, -0.60, -0.20, 0.30, -0.40, -0.70,
                -0.45, -0.95, -0.60, -1.20, -0.75, -1.40, -0.85, -1.55, -0.95, -1.45,
                -1.00, -1.70, -1.05, -1.85, -1.00, -1.60, -0.95, -1.75, -1.00, -1.55,
                -0.95, -1.90, -1.00, -1.60, -0.85]

# ---------------- NorESM2-LM ----------------
noresm2_ari_emu = [-0.02, -0.02, 0.0, -0.01, -0.01, -0.02, -0.03, -0.04, -0.05, -0.06, -0.07, -0.10, -0.15, -0.19,
                   -0.18, -0.13, -0.15, -0.09, -0.05, -0.05, -0.05, -0.05, -0.05, -0.05, -0.06, -0.06, -0.07, -0.07]
noresm2_ari_hist = [-0.05, 0.08, -0.02, 0.10, 0.00, 0.05, -0.08, 0.06, -0.05, 0.03,
                    -0.10, 0.02, -0.06, 0.05, -0.12, -0.02, -0.08, 0.03, -0.10, -0.04,
                    -0.08, 0.00, -0.12, -0.05, -0.02, -0.10, -0.06, -0.14, -0.04, -0.10,
                    -0.15, -0.06, -0.12, -0.08, -0.18, -0.12, -0.25, -0.15, -0.28, -0.18,
                    -0.30, -0.15, -0.25, -0.12, -0.28, -0.18, -0.22, -0.10, -0.20, -0.12,
                    -0.18, -0.08, -0.15, -0.05, -0.10]
noresm2_ari_fut = [0.02, -0.10, 0.05, -0.08, 0.10, -0.05, 0.03, -0.12, -0.02, 0.06,
                   -0.10, 0.00, -0.15, -0.05, 0.02, -0.12, -0.04, -0.18, -0.06, 0.00,
                   -0.14, -0.08, -0.02, -0.16, -0.06, -0.12, -0.04, -0.15, -0.08]
noresm2_aci_emu = [0.06, 0.04, 0.02, -0.02, -0.08, -0.11, -0.18, -0.26, -0.30, -0.34, -0.42, -0.60, -0.85, -1.00,
                   -1.05, -1.05, -1.02, -1.08, -1.05, -0.83, -0.75, -0.64, -0.54, -0.45, -0.37, -0.29, -0.22, -0.15]
noresm2_aci_hist = [0.05, -0.05, 0.08, -0.02, 0.10, -0.08, 0.05, -0.05, 0.12, -0.10,
                    0.00, -0.15, -0.05, -0.20, -0.08, -0.25, -0.10, -0.30, -0.15, -0.28,
                    -0.22, -0.35, -0.25, -0.30, -0.40, -0.28, -0.45, -0.35, -0.50, -0.38,
                    -0.55, -0.48, -0.65, -0.58, -0.78, -0.72, -0.90, -0.88, -1.05, -0.95,
                    -1.15, -1.02, -1.20, -1.05, -1.18, -1.00, -1.25, -1.02, -1.15, -1.00,
                    -1.20, -0.98, -1.12, -0.95, -1.00]
noresm2_aci_fut = [-0.78, -0.95, -0.70, -0.88, -0.62, -0.80, -0.55, -0.72, -0.48, -0.65,
                   -0.42, -0.58, -0.38, -0.52, -0.30, -0.48, -0.22, -0.42, -0.18, -0.35,
                   -0.10, -0.30, -0.05, -0.25, -0.02, -0.20, 0.02, -0.15, -0.10]
noresm2_tot_emu = [0.04, 0.03, 0.01, -0.03, -0.09, -0.15, -0.23, -0.31, -0.35, -0.39, -0.50, -0.70, -1.00, -1.22,
                   -1.28, -1.22, -1.21, -1.22, -1.20, -0.93, -0.84, -0.70, -0.60, -0.50, -0.43, -0.35, -0.29, -0.23]
noresm2_tot_hist = [-0.05, 0.10, -0.05, 0.20, 0.00, 0.15, -0.10, 0.12, -0.08, 0.05,
                    -0.15, 0.02, -0.20, -0.05, -0.25, -0.10, -0.30, -0.20, -0.38, -0.25,
                    -0.35, -0.45, -0.30, -0.40, -0.50, -0.35, -0.55, -0.42, -0.60, -0.48,
                    -0.65, -0.55, -0.80, -0.70, -0.95, -0.90, -1.10, -1.05, -1.30, -1.20,
                    -1.45, -1.25, -1.40, -1.20, -1.45, -1.22, -1.38, -1.15, -1.42, -1.20,
                    -1.35, -1.05, -1.25, -0.95, -1.00]
noresm2_tot_fut = [-0.80, -1.00, -0.72, -0.90, -0.62, -0.85, -0.55, -0.78, -0.48, -0.70,
                   -0.40, -0.62, -0.35, -0.55, -0.25, -0.48, -0.20, -0.42, -0.12, -0.35,
                   -0.08, -0.28, 0.00, -0.25, -0.05, -0.22, 0.02, -0.18, -0.12]

# ---------------- UKESM1-0-LL ----------------
ukesm1_ari_emu = [0.0, 0.0, 0.0, 0.0, -0.01, -0.02, -0.04, -0.06, -0.07, -0.08, -0.11, -0.15, -0.25, -0.29,
                  -0.27, -0.25, -0.24, -0.26, -0.22, -0.16, -0.15, -0.12, -0.11, -0.10, -0.09, -0.08, -0.075, -0.07]
ukesm1_ari_hist = [0.30, -0.05, 0.25, -0.15, 0.30, -0.05, -0.50, 0.20, 0.05, 0.30,
                   -0.10, 0.15, -0.20, 0.05, 0.25, -0.15, 0.10, -0.05, 0.30, -0.10,
                   0.05, -0.25, 0.15, -0.10, 0.20, -0.30, 0.05, 0.30, -0.15, 0.10,
                   -0.20, -0.05, -0.35, -0.10, -0.25, -0.40, -0.15, -0.30, -0.20, -0.45,
                   -0.25, -0.40, -0.65, -0.30, -0.80, -0.20, -0.50, -0.35, -0.60, -0.25,
                   -0.40, 0.05, -0.45, -0.20, -0.30]
ukesm1_aci_emu = [0.05, 0.05, 0.02, -0.05, -0.18, -0.26, -0.36, -0.41, -0.45, -0.49, -0.56, -0.68, -0.92, -1.06,
                  -1.05, -1.05, -1.02, -1.04, -0.94, -0.83, -0.80, -0.70, -0.62, -0.56, -0.51, -0.46, -0.42, -0.38]
ukesm1_aci_hist = [0.05, -0.05, 0.25, 0.10, 0.15, 0.00, -0.05, -0.15, -0.10, -0.20,
                   -0.22, -0.30, -0.18, -0.38, -0.28, -0.42, -0.32, -0.48, -0.35, -0.52,
                   -0.40, -0.55, -0.42, -0.35, -0.58, -0.45, -0.62, -0.50, -0.70, -0.58,
                   -0.78, -0.68, -0.85, -0.75, -0.95, -0.88, -1.10, -1.00, -1.18, -1.05,
                   -1.25, -1.05, -1.30, -1.08, -1.20, -1.00, -1.15, -0.92, -1.22, -0.85,
                   -1.10, -0.80, -1.05, -0.75, -0.90]
ukesm1_tot_emu = [0.06, 0.05, 0.02, -0.05, -0.18, -0.24, -0.38, -0.50, -0.53, -0.55, -0.65, -0.87, -1.20, -1.40,
                  -1.36, -1.31, -1.27, -1.33, -1.27, -1.00, -0.99, -0.85, -0.75, -0.67, -0.61, -0.55, -0.50, -0.47]
ukesm1_tot_hist = [0.30, -0.10, 0.30, -0.05, 0.30, 0.05, -0.35, 0.10, -0.15, 0.20,
                   -0.30, -0.05, -0.45, -0.20, -0.55, -0.30, -0.65, -0.40, -0.20, -0.60,
                   -0.40, -0.80, -0.30, -0.55, -0.25, -0.75, -0.45, 0.10, -0.60, -0.85,
                   -0.70, -1.00, -0.80, -1.10, -0.95, -1.30, -1.10, -1.50, -1.20, -1.60,
                   -1.35, -1.80, -1.40, -1.65, -1.25, -1.55, -1.30, -1.70, -1.20, -1.50,
                   -1.10, -0.55, -1.20, -0.80, -1.00]

# (emulator, model-historical, model-future) per model, per column
PANEL_DATA = [
    [(canesm5_ari_emu, canesm5_ari_hist, canesm5_ari_fut), (canesm5_aci_emu, canesm5_aci_hist, canesm5_aci_fut),
     (canesm5_tot_emu, canesm5_tot_hist, canesm5_tot_fut)],
    [(e3sm_ari_emu, e3sm_ari_hist, None), (e3sm_aci_emu, e3sm_aci_hist, None), (e3sm_tot_emu, e3sm_tot_hist, None)],
    [(gfdlcm4_ari_emu, gfdlcm4_ari_hist, gfdlcm4_ari_fut), (gfdlcm4_aci_emu, gfdlcm4_aci_hist, gfdlcm4_aci_fut),
     (gfdlcm4_tot_emu, gfdlcm4_tot_hist, gfdlcm4_tot_fut)],
    [(gfdlesm4_ari_emu, gfdlesm4_ari_hist, None), (gfdlesm4_aci_emu, gfdlesm4_aci_hist, None),
     (gfdlesm4_tot_emu, gfdlesm4_tot_hist, None)],
    [(giss_ari_emu, giss_ari_hist, giss_ari_fut), (giss_aci_emu, giss_aci_hist, giss_aci_fut),
     (giss_tot_emu, giss_tot_hist, giss_tot_fut)],
    [(hadgem3_ari_emu, hadgem3_ari_hist, hadgem3_ari_fut), (hadgem3_aci_emu, hadgem3_aci_hist, hadgem3_aci_fut),
     (hadgem3_tot_emu, hadgem3_tot_hist, hadgem3_tot_fut)],
    [(ipsl_ari_emu, ipsl_ari_hist, ipsl_ari_fut), (ipsl_aci_emu, ipsl_aci_hist, ipsl_aci_fut),
     (ipsl_tot_emu, ipsl_tot_hist, ipsl_tot_fut)],
    [(miroc6_ari_emu, miroc6_ari_hist, miroc6_ari_fut), (miroc6_aci_emu, miroc6_aci_hist, miroc6_aci_fut),
     (miroc6_tot_emu, miroc6_tot_hist, miroc6_tot_fut)],
    [(mri_ari_emu, mri_ari_hist, None), (mri_aci_emu, mri_aci_hist, None), (mri_tot_emu, mri_tot_hist, None)],
    [(noresm2_ari_emu, noresm2_ari_hist, noresm2_ari_fut), (noresm2_aci_emu, noresm2_aci_hist, noresm2_aci_fut),
     (noresm2_tot_emu, noresm2_tot_hist, noresm2_tot_fut)],
    [(ukesm1_ari_emu, ukesm1_ari_hist, None), (ukesm1_aci_emu, ukesm1_aci_hist, None),
     (ukesm1_tot_emu, ukesm1_tot_hist, None)],
]

# sanity check of list lengths
for r, row in enumerate(PANEL_DATA):
    for c, (emu, hist, fut) in enumerate(row):
        if len(emu) != len(YEARS_EMU) or len(hist) != len(YEARS_HIST) or (fut is not None and len(fut) != len(YEARS_FUT)):
            raise ValueError(f"length mismatch {MODEL_NAMES[r]} col {c}")

# ---------------- layout geometry ----------------
# the page body has an 8 px margin; keep the figure fully inside the window
PAGE_MARGIN = 8
W, H = 1107 - 2 * PAGE_MARGIN, 1515 - 2 * PAGE_MARGIN - 4
COL_PX = [(81, 391), (436, 748), (791, 1097)]          # window pixels
ROW_TOP0, ROW_PITCH, PANEL_H = 9.5, 137.8, 96          # window pixels
FONT = "Liberation Sans, Arial, Helvetica, sans-serif"
FS = 16
GREY_LINE = "#666666"
SHADE = "#e1e2e4"
Y_DTICK = [0.5, 1.0, 2.0]
Y_MINOR = [0.25, 0.5, 0.5]
Y_FORMAT = [".1f", "d", "d"]

fig = go.Figure()
layout_axes = {}
shapes = []
annotations = []

for r, name in enumerate(MODEL_NAMES):
    color = MODEL_COLORS[r]
    top = ROW_TOP0 + ROW_PITCH * r - PAGE_MARGIN
    bottom = top + PANEL_H
    ydom = [1 - bottom / H, 1 - top / H]
    for c in range(3):
        idx = r * 3 + c + 1
        sfx = "" if idx == 1 else str(idx)
        xref, yref = "x" + sfx, "y" + sfx
        emu, hist, fut = PANEL_DATA[r][c]

        gx = list(YEARS_HIST)
        gy = list(hist)
        if fut is not None:
            gx += YEARS_FUT
            gy += fut
        fig.add_trace(go.Scatter(x=gx, y=gy, mode="lines", xaxis=xref, yaxis=yref,
                                 line=dict(color=GREY_LINE, width=2.5), showlegend=False,
                                 hoverinfo="skip", connectgaps=False))
        fig.add_trace(go.Scatter(x=YEARS_EMU, y=emu, mode="lines", xaxis=xref, yaxis=yref,
                                 line=dict(color=color, width=3), showlegend=False, hoverinfo="skip"))

        x0, x1 = COL_PX[c]
        x0 -= PAGE_MARGIN
        x1 -= PAGE_MARGIN
        layout_axes["xaxis" + sfx] = dict(
            domain=[x0 / W, min(x1 / W, 1.0)], range=[1750, 2100], anchor=yref,
            tickmode="array", tickvals=X_TICK_VALUES, showticklabels=False,
            ticks="inside", ticklen=5, tickwidth=1, tickcolor="black",
            minor=dict(dtick=25, tick0=1750, ticks="inside", ticklen=3, tickwidth=1, tickcolor="black"),
            showline=True, linecolor="black", linewidth=1.5, mirror="ticks",
            showgrid=False, zeroline=False, fixedrange=True)
        y0r, y1r = Y_RANGES[c]
        layout_axes["yaxis" + sfx] = dict(
            domain=ydom, range=[y0r, y1r], anchor=xref,
            dtick=Y_DTICK[c], tick0=0, tickformat=Y_FORMAT[c],
            ticks="inside", ticklen=5, tickwidth=1, tickcolor="black",
            minor=dict(dtick=Y_MINOR[c], tick0=0, ticks="inside", ticklen=3, tickwidth=1, tickcolor="black"),
            showline=True, linecolor="black", linewidth=1.5, mirror="ticks",
            showgrid=False, zeroline=False, fixedrange=True,
            tickfont=dict(family=FONT, size=FS, color="#1a1a1a"))

        # shaded historical period and zero line
        shapes.append(dict(type="rect", xref=xref, yref=yref + " domain", x0=1850, x1=2014, y0=0, y1=1,
                           fillcolor=SHADE, line=dict(width=0), layer="below"))
        shapes.append(dict(type="line", xref=xref + " domain", yref=yref, x0=0, x1=1, y0=0, y1=0,
                           line=dict(color="black", width=1, dash="1px,2px"), layer="below"))

        # x tick labels
        for tv, tl in zip(X_TICK_VALUES, X_TICK_LABELS):
            annotations.append(dict(x=tv, xref=xref, y=0, yref=yref + " domain", text=tl,
                                    showarrow=False, xanchor="center", yanchor="middle",
                                    xshift=(-15 if tv == 2100 else 0), yshift=-13.5,
                                    font=dict(family=FONT, size=FS, color="#1a1a1a")))
        # column label
        annotations.append(dict(x=0.95, xref=xref + " domain", y=0.15, yref=yref + " domain",
                                text=COLUMN_LABELS[c], showarrow=False, xanchor="right", yanchor="middle",
                                font=dict(family=FONT, size=FS, color="#1a1a1a")))
        if c == 0:
            annotations.append(dict(x=0.05, xref=xref + " domain", y=0.15, yref=yref + " domain",
                                    text="<b>" + name + "</b>", showarrow=False, xanchor="left",
                                    yanchor="middle", font=dict(family=FONT, size=FS, color="#111111")))
            annotations.append(dict(x=(21 - PAGE_MARGIN) / W, xref="paper", y=(ydom[0] + ydom[1]) / 2,
                                    yref="paper", text="W m<sup>−2</sup>", showarrow=False, textangle=-90,
                                    xanchor="center", yanchor="middle",
                                    font=dict(family=FONT, size=18, color="#1a1a1a")))

fig.update_layout(width=W, height=H, margin=dict(l=0, r=0, t=0, b=0),
                  paper_bgcolor="white", plot_bgcolor="white",
                  font=dict(family=FONT, size=FS, color="#1a1a1a"),
                  shapes=shapes, annotations=annotations, showlegend=False, **layout_axes)

fig.write_html("out.html")
